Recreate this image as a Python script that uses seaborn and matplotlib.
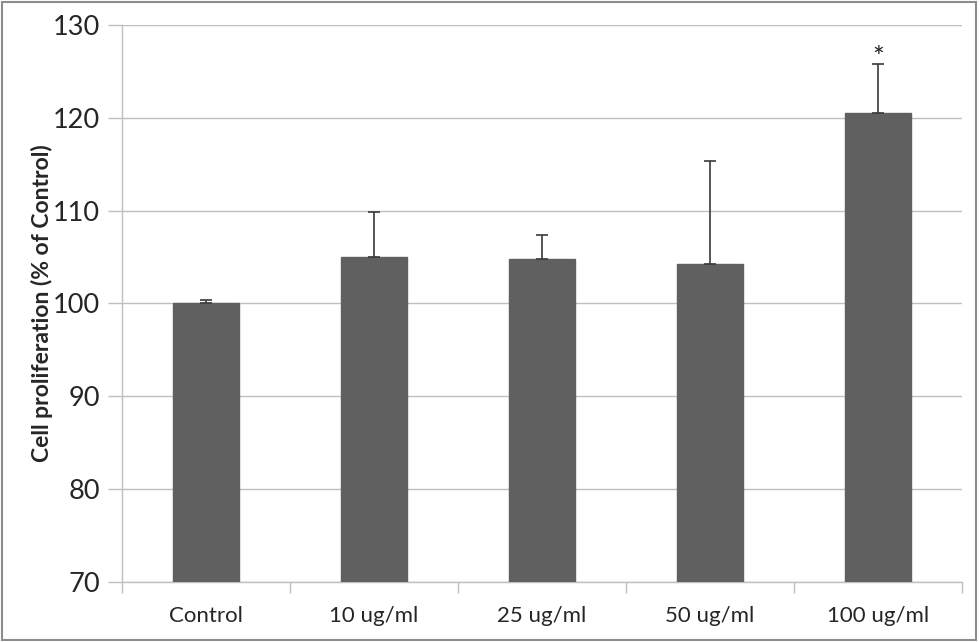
import numpy as np
import pandas as pd
import seaborn as sns
import matplotlib.pyplot as plt
from matplotlib.patches import Rectangle

# values
groups = ['Control', '10 ug/ml', '25 ug/ml', '50 ug/ml', '100 ug/ml']
means = [100.0, 105.0, 104.8, 104.2, 120.5]
errors = [0.4, 4.8, 2.6, 11.2, 5.3]
marks = ['', '', '', '', '*']


def make_plot():
    sns.set_theme(style='white')
    plt.rcParams['font.family'] = ['Lato', 'DejaVu Sans']

    df = pd.DataFrame({'group': groups, 'mean': means})

    fig = plt.figure(figsize=(9.8, 6.42), dpi=100)
    ax = fig.add_axes([0.1245, 0.0935, 0.857, 0.8676])

    sns.barplot(data=df, x='group', y='mean', color='#606060', width=0.39,
                saturation=1, edgecolor='#606060', ax=ax, zorder=3)

    x = np.arange(len(groups))
    ax.errorbar(x, means, yerr=[np.zeros(len(errors)), errors], fmt='none',
                ecolor='#3a3a3a', elinewidth=1.2, capsize=4, capthick=1.2,
                zorder=4)
    for xi, m, e, t in zip(x, means, errors, marks):
        if t:
            ax.text(xi, m + e + 0.5, t, ha='center', va='center',
                    fontsize=20, color='#222222')

    ax.set_ylim(70, 130)
    ax.set_xlim(-0.5, len(groups) - 0.5)
    ax.set_yticks(range(70, 131, 10))
    ax.yaxis.grid(True, color='#bfbfbf', linewidth=1.0, zorder=0)
    for s in ['top', 'right']:
        ax.spines[s].set_visible(False)
    for s in ['left', 'bottom']:
        ax.spines[s].set_color('#bfbfbf')
        ax.spines[s].set_linewidth(1.0)

    ax.tick_params(axis='y', which='major', length=10, width=1.0,
                   color='#bfbfbf', labelsize=19.5, pad=6, left=True)
    ax.tick_params(axis='x', which='major', length=0, labelsize=16, pad=17)
    ax.set_xticks(np.arange(-0.5, len(groups)), minor=True)
    ax.tick_params(axis='x', which='minor', length=8, width=1.0,
                   color='#bfbfbf', bottom=True)

    ax.set_xlabel('')
    ax.set_ylabel('Cell proliferation (% of Control)', fontsize=16.5,
                  fontweight='bold', labelpad=0)

    fig.patches.append(Rectangle((0.002, 0.003), 0.994, 0.994,
                                 transform=fig.transFigure, fill=False,
                                 edgecolor='#8c8c8c', linewidth=1.5))

    fig.savefig('out.png', dpi=100)


if __name__ == "__main__":
    make_plot()
